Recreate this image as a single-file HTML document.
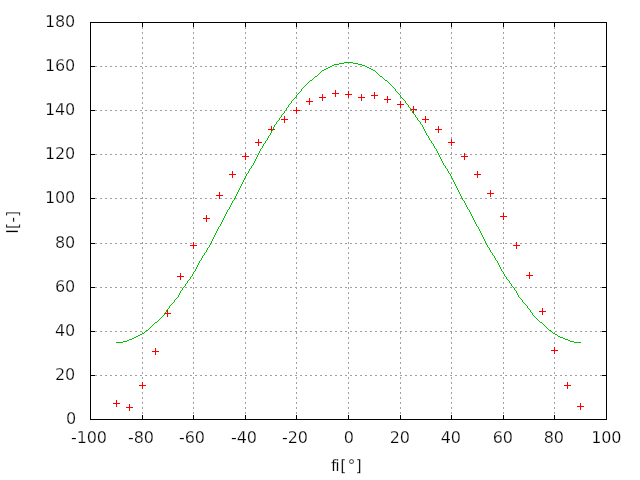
<!DOCTYPE html><html><head><meta charset="utf-8"><style>html,body{margin:0;padding:0;background:#fff;overflow:hidden}svg{display:block}text{font-family:"DejaVu Sans", "Liberation Sans", sans-serif;font-size:16px;fill:#000;stroke:#fff;stroke-width:0.25px}</style></head><body>
<svg width="640" height="480" viewBox="0 0 640 480">
<rect width="640" height="480" fill="#fff"/>
<path d="M95 375.5H602 M95 331.5H602 M95 287.5H602 M95 243.5H602 M95 198.5H602 M95 154.5H602 M95 110.5H602 M95 66.5H602 M142.5 27V414 M193.5 27V414 M245.5 27V414 M296.5 27V414 M348.5 27V414 M400.5 27V414 M451.5 27V414 M503.5 27V414 M554.5 27V414" stroke="#a0a0a0" stroke-width="1" stroke-dasharray="2 3" fill="none"/>
<path d="M90 375.5h5M602 375.5h5 M90 331.5h5M602 331.5h5 M90 287.5h5M602 287.5h5 M90 243.5h5M602 243.5h5 M90 198.5h5M602 198.5h5 M90 154.5h5M602 154.5h5 M90 110.5h5M602 110.5h5 M90 66.5h5M602 66.5h5 M142.5 22v5M142.5 415v5 M193.5 22v5M193.5 415v5 M245.5 22v5M245.5 415v5 M296.5 22v5M296.5 415v5 M348.5 22v5M348.5 415v5 M400.5 22v5M400.5 415v5 M451.5 22v5M451.5 415v5 M503.5 22v5M503.5 415v5 M554.5 22v5M554.5 415v5" stroke="#000" stroke-width="1" fill="none"/>
<rect x="90.5" y="22.5" width="516" height="397" stroke="#000" stroke-width="1" fill="none"/>
<path d="M113 403.5h7M116.5 400v7 M126 407.5h7M129.5 404v7 M139 385.5h7M142.5 382v7 M152 351.5h7M155.5 348v7 M164 313.5h7M167.5 310v7 M177 276.5h7M180.5 273v7 M190 245.5h7M193.5 242v7 M203 218.5h7M206.5 215v7 M216 195.5h7M219.5 192v7 M229 174.5h7M232.5 171v7 M242 156.5h7M245.5 153v7 M255 142.5h7M258.5 139v7 M268 129.5h7M271.5 126v7 M281 119.5h7M284.5 116v7 M293 110.5h7M296.5 107v7 M306 101.5h7M309.5 98v7 M319 97.5h7M322.5 94v7 M332 93.5h7M335.5 90v7 M345 94.5h7M348.5 91v7 M358 97.5h7M361.5 94v7 M371 95.5h7M374.5 92v7 M384 99.5h7M387.5 96v7 M397 104.5h7M400.5 101v7 M410 109.5h7M413.5 106v7 M422 119.5h7M425.5 116v7 M435 129.5h7M438.5 126v7 M448 142.5h7M451.5 139v7 M461 156.5h7M464.5 153v7 M474 174.5h7M477.5 171v7 M487 193.5h7M490.5 190v7 M500 216.5h7M503.5 213v7 M513 245.5h7M516.5 242v7 M526 275.5h7M529.5 272v7 M539 311.5h7M542.5 308v7 M551 350.5h7M554.5 347v7 M564 385.5h7M567.5 382v7 M577 406.5h7M580.5 403v7" stroke="#f00" stroke-width="1" fill="none"/>
<path d="M344 62h9v1h-9zM339 63h5v1h-5zM353 63h5v1h-5zM334 64h5v1h-5zM358 64h4v1h-4zM332 65h2v1h-2zM362 65h3v1h-3zM330 66h2v1h-2zM365 66h2v1h-2zM328 67h2v1h-2zM367 67h2v1h-2zM326 68h2v1h-2zM369 68h2v1h-2zM324 69h2v1h-2zM371 69h2v1h-2zM322 70h2v1h-2zM373 70h2v1h-2zM321 71h1v1h-1zM375 71h1v1h-1zM320 72h1v1h-1zM376 72h1v1h-1zM319 73h1v1h-1zM377 73h1v1h-1zM318 74h1v1h-1zM378 74h1v1h-1zM317 75h1v1h-1zM379 75h1v1h-1zM315 76h2v1h-2zM380 76h2v1h-2zM314 77h1v1h-1zM382 77h1v1h-1zM313 78h1v1h-1zM383 78h1v1h-1zM312 79h1v1h-1zM384 79h1v1h-1zM310 80h2v1h-2zM385 80h2v1h-2zM309 81h1v1h-1zM387 81h1v1h-1zM308 82h1v1h-1zM388 82h1v1h-1zM307 83h1v1h-1zM389 83h1v1h-1zM306 84h1v1h-1zM390 84h1v1h-1zM305 85h1v1h-1zM391 85h1v1h-1zM304 86h1v1h-1zM392 86h1v1h-1zM303 87h1v1h-1zM393 87h1v1h-1zM302 88h1v1h-1zM394 88h1v1h-1zM301 89h1v1h-1zM395 89h1v1h-1zM301 90h1v1h-1zM395 90h1v1h-1zM300 91h1v1h-1zM396 91h1v1h-1zM299 92h1v1h-1zM397 92h1v1h-1zM298 93h1v1h-1zM398 93h1v1h-1zM297 94h1v1h-1zM399 94h1v1h-1zM296 95h1v1h-1zM400 95h1v1h-1zM296 96h1v1h-1zM400 96h1v1h-1zM295 97h1v1h-1zM401 97h1v1h-1zM294 98h1v1h-1zM402 98h1v1h-1zM293 99h1v1h-1zM403 99h1v1h-1zM292 100h1v1h-1zM404 100h1v1h-1zM291 101h1v1h-1zM405 101h1v1h-1zM291 102h1v1h-1zM405 102h1v1h-1zM290 103h1v1h-1zM406 103h1v1h-1zM289 104h1v1h-1zM407 104h1v1h-1zM288 105h1v1h-1zM408 105h1v1h-1zM288 106h1v1h-1zM408 106h1v1h-1zM287 107h1v1h-1zM409 107h1v1h-1zM286 108h1v1h-1zM410 108h1v1h-1zM286 109h1v1h-1zM410 109h1v1h-1zM285 110h1v1h-1zM411 110h1v1h-1zM284 111h1v1h-1zM412 111h1v1h-1zM284 112h1v1h-1zM412 112h1v1h-1zM283 113h1v1h-1zM413 113h1v1h-1zM282 114h1v1h-1zM414 114h1v1h-1zM281 115h1v1h-1zM415 115h1v1h-1zM281 116h1v1h-1zM415 116h1v1h-1zM280 117h1v1h-1zM416 117h1v1h-1zM279 118h1v1h-1zM417 118h1v1h-1zM279 119h1v1h-1zM417 119h1v1h-1zM278 120h1v1h-1zM418 120h1v1h-1zM277 121h1v1h-1zM419 121h1v1h-1zM276 122h1v1h-1zM420 122h1v1h-1zM276 123h1v1h-1zM420 123h1v1h-1zM275 124h1v1h-1zM421 124h1v1h-1zM274 125h1v1h-1zM422 125h1v1h-1zM274 126h1v1h-1zM422 126h1v1h-1zM273 127h1v1h-1zM423 127h1v1h-1zM273 128h1v1h-1zM423 128h1v1h-1zM272 129h1v1h-1zM424 129h1v1h-1zM272 130h1v1h-1zM424 130h1v1h-1zM271 131h1v1h-1zM425 131h1v1h-1zM271 132h1v1h-1zM425 132h1v1h-1zM270 133h1v1h-1zM426 133h1v1h-1zM270 134h1v1h-1zM426 134h1v1h-1zM269 135h1v1h-1zM427 135h1v1h-1zM268 136h1v1h-1zM428 136h1v1h-1zM268 137h1v1h-1zM428 137h1v1h-1zM267 138h1v1h-1zM429 138h1v1h-1zM267 139h1v1h-1zM429 139h1v1h-1zM266 140h1v1h-1zM430 140h1v1h-1zM265 141h1v1h-1zM431 141h1v1h-1zM265 142h1v1h-1zM431 142h1v1h-1zM264 143h1v1h-1zM432 143h1v1h-1zM263 144h1v1h-1zM433 144h1v1h-1zM263 145h1v1h-1zM433 145h1v1h-1zM262 146h1v1h-1zM434 146h1v1h-1zM262 147h1v1h-1zM434 147h1v1h-1zM261 148h1v1h-1zM435 148h1v1h-1zM260 149h1v1h-1zM436 149h1v1h-1zM260 150h1v1h-1zM436 150h1v1h-1zM259 151h1v1h-1zM437 151h1v1h-1zM259 152h1v1h-1zM437 152h1v1h-1zM258 153h1v1h-1zM438 153h1v1h-1zM258 154h1v1h-1zM438 154h1v1h-1zM257 155h1v1h-1zM439 155h1v1h-1zM257 156h1v1h-1zM439 156h1v1h-1zM256 157h1v1h-1zM440 157h1v1h-1zM256 158h1v1h-1zM440 158h1v1h-1zM255 159h1v1h-1zM441 159h1v1h-1zM255 160h1v1h-1zM441 160h1v1h-1zM254 161h1v1h-1zM442 161h1v1h-1zM254 162h1v1h-1zM442 162h1v1h-1zM253 163h1v1h-1zM443 163h1v1h-1zM253 164h1v1h-1zM443 164h1v1h-1zM252 165h1v1h-1zM444 165h1v1h-1zM251 166h1v1h-1zM445 166h1v1h-1zM251 167h1v1h-1zM445 167h1v1h-1zM250 168h1v1h-1zM446 168h1v1h-1zM249 169h1v1h-1zM447 169h1v1h-1zM249 170h1v1h-1zM447 170h1v1h-1zM248 171h1v1h-1zM448 171h1v1h-1zM248 172h1v1h-1zM448 172h1v1h-1zM247 173h1v1h-1zM449 173h1v1h-1zM246 174h1v1h-1zM450 174h1v1h-1zM246 175h1v1h-1zM450 175h1v1h-1zM245 176h1v1h-1zM451 176h1v1h-1zM245 177h1v1h-1zM451 177h1v1h-1zM244 178h1v1h-1zM452 178h1v1h-1zM244 179h1v1h-1zM452 179h1v1h-1zM243 180h1v1h-1zM453 180h1v1h-1zM243 181h1v1h-1zM453 181h1v1h-1zM242 182h1v1h-1zM454 182h1v1h-1zM242 183h1v1h-1zM454 183h1v1h-1zM241 184h1v1h-1zM455 184h1v1h-1zM241 185h1v1h-1zM455 185h1v1h-1zM240 186h1v1h-1zM456 186h1v1h-1zM240 187h1v1h-1zM456 187h1v1h-1zM239 188h1v1h-1zM457 188h1v1h-1zM239 189h1v1h-1zM457 189h1v1h-1zM238 190h1v1h-1zM458 190h1v1h-1zM238 191h1v1h-1zM458 191h1v1h-1zM237 192h1v1h-1zM459 192h1v1h-1zM237 193h1v1h-1zM459 193h1v1h-1zM236 194h1v1h-1zM460 194h1v1h-1zM236 195h1v1h-1zM460 195h1v1h-1zM235 196h1v1h-1zM461 196h1v1h-1zM235 197h1v1h-1zM461 197h1v1h-1zM234 198h1v1h-1zM462 198h1v1h-1zM234 199h1v1h-1zM462 199h1v1h-1zM233 200h1v1h-1zM463 200h1v1h-1zM232 201h1v1h-1zM464 201h1v1h-1zM232 202h1v1h-1zM464 202h1v1h-1zM231 203h1v1h-1zM465 203h1v1h-1zM231 204h1v1h-1zM465 204h1v1h-1zM230 205h1v1h-1zM466 205h1v1h-1zM230 206h1v1h-1zM466 206h1v1h-1zM229 207h1v1h-1zM467 207h1v1h-1zM229 208h1v1h-1zM467 208h1v1h-1zM228 209h1v1h-1zM468 209h1v1h-1zM227 210h1v1h-1zM469 210h1v1h-1zM227 211h1v1h-1zM469 211h1v1h-1zM226 212h1v1h-1zM470 212h1v1h-1zM226 213h1v1h-1zM470 213h1v1h-1zM225 214h1v1h-1zM471 214h1v1h-1zM225 215h1v1h-1zM471 215h1v1h-1zM224 216h1v1h-1zM472 216h1v1h-1zM224 217h1v1h-1zM472 217h1v1h-1zM223 218h1v1h-1zM473 218h1v1h-1zM223 219h1v1h-1zM473 219h1v1h-1zM222 220h1v1h-1zM474 220h1v1h-1zM222 221h1v1h-1zM474 221h1v1h-1zM221 222h1v1h-1zM475 222h1v1h-1zM221 223h1v1h-1zM475 223h1v1h-1zM220 224h1v1h-1zM476 224h1v1h-1zM220 225h1v1h-1zM476 225h1v1h-1zM219 226h1v1h-1zM477 226h1v1h-1zM218 227h1v1h-1zM478 227h1v1h-1zM218 228h1v1h-1zM478 228h1v1h-1zM217 229h1v1h-1zM479 229h1v1h-1zM217 230h1v1h-1zM479 230h1v1h-1zM216 231h1v1h-1zM480 231h1v1h-1zM216 232h1v1h-1zM480 232h1v1h-1zM215 233h1v1h-1zM481 233h1v1h-1zM215 234h1v1h-1zM481 234h1v1h-1zM214 235h1v1h-1zM482 235h1v1h-1zM214 236h1v1h-1zM482 236h1v1h-1zM213 237h1v1h-1zM483 237h1v1h-1zM213 238h1v1h-1zM483 238h1v1h-1zM212 239h1v1h-1zM484 239h1v1h-1zM212 240h1v1h-1zM484 240h1v1h-1zM211 241h1v1h-1zM485 241h1v1h-1zM211 242h1v1h-1zM485 242h1v1h-1zM210 243h1v1h-1zM486 243h1v1h-1zM210 244h1v1h-1zM486 244h1v1h-1zM209 245h1v1h-1zM487 245h1v1h-1zM209 246h1v1h-1zM487 246h1v1h-1zM208 247h1v1h-1zM488 247h1v1h-1zM207 248h1v1h-1zM489 248h1v1h-1zM207 249h1v1h-1zM489 249h1v1h-1zM206 250h1v1h-1zM490 250h1v1h-1zM206 251h1v1h-1zM490 251h1v1h-1zM205 252h1v1h-1zM491 252h1v1h-1zM204 253h1v1h-1zM492 253h1v1h-1zM204 254h1v1h-1zM492 254h1v1h-1zM203 255h1v1h-1zM493 255h1v1h-1zM202 256h1v1h-1zM494 256h1v1h-1zM202 257h1v1h-1zM494 257h1v1h-1zM201 258h1v1h-1zM495 258h1v1h-1zM201 259h1v1h-1zM495 259h1v1h-1zM200 260h1v1h-1zM496 260h1v1h-1zM199 261h1v1h-1zM497 261h1v1h-1zM199 262h1v1h-1zM497 262h1v1h-1zM198 263h1v1h-1zM498 263h1v1h-1zM198 264h1v1h-1zM498 264h1v1h-1zM197 265h1v1h-1zM499 265h1v1h-1zM197 266h1v1h-1zM499 266h1v1h-1zM196 267h1v1h-1zM500 267h1v1h-1zM196 268h1v1h-1zM500 268h1v1h-1zM195 269h1v1h-1zM501 269h1v1h-1zM195 270h1v1h-1zM501 270h1v1h-1zM194 271h1v1h-1zM502 271h1v1h-1zM193 272h1v1h-1zM503 272h1v1h-1zM193 273h1v1h-1zM503 273h1v1h-1zM192 274h1v1h-1zM504 274h1v1h-1zM192 275h1v1h-1zM504 275h1v1h-1zM191 276h1v1h-1zM505 276h1v1h-1zM190 277h1v1h-1zM506 277h1v1h-1zM190 278h1v1h-1zM506 278h1v1h-1zM189 279h1v1h-1zM507 279h1v1h-1zM188 280h1v1h-1zM508 280h1v1h-1zM187 281h1v1h-1zM509 281h1v1h-1zM187 282h1v1h-1zM509 282h1v1h-1zM186 283h1v1h-1zM510 283h1v1h-1zM185 284h1v1h-1zM511 284h1v1h-1zM185 285h1v1h-1zM511 285h1v1h-1zM184 286h1v1h-1zM512 286h1v1h-1zM183 287h1v1h-1zM513 287h1v1h-1zM182 288h1v1h-1zM514 288h1v1h-1zM182 289h1v1h-1zM514 289h1v1h-1zM181 290h1v1h-1zM515 290h1v1h-1zM180 291h1v1h-1zM516 291h1v1h-1zM180 292h1v1h-1zM516 292h1v1h-1zM179 293h1v1h-1zM517 293h1v1h-1zM179 294h1v1h-1zM517 294h1v1h-1zM178 295h1v1h-1zM518 295h1v1h-1zM178 296h1v1h-1zM518 296h1v1h-1zM177 297h1v1h-1zM519 297h1v1h-1zM176 298h1v1h-1zM520 298h1v1h-1zM175 299h1v1h-1zM521 299h1v1h-1zM174 300h1v1h-1zM522 300h1v1h-1zM174 301h1v1h-1zM522 301h1v1h-1zM173 302h1v1h-1zM523 302h1v1h-1zM172 303h1v1h-1zM524 303h1v1h-1zM171 304h1v1h-1zM525 304h1v1h-1zM170 305h1v1h-1zM526 305h1v1h-1zM169 306h1v1h-1zM527 306h1v1h-1zM169 307h1v1h-1zM527 307h1v1h-1zM168 308h1v1h-1zM528 308h1v1h-1zM167 309h1v1h-1zM529 309h1v1h-1zM166 310h1v1h-1zM530 310h1v1h-1zM166 311h1v1h-1zM530 311h1v1h-1zM165 312h1v1h-1zM531 312h1v1h-1zM164 313h1v1h-1zM532 313h1v1h-1zM164 314h1v1h-1zM532 314h1v1h-1zM163 315h1v1h-1zM533 315h1v1h-1zM162 316h1v1h-1zM534 316h1v1h-1zM161 317h1v1h-1zM535 317h1v1h-1zM160 318h1v1h-1zM536 318h1v1h-1zM159 319h1v1h-1zM537 319h1v1h-1zM158 320h1v1h-1zM538 320h1v1h-1zM157 321h1v1h-1zM539 321h1v1h-1zM155 322h2v1h-2zM540 322h2v1h-2zM154 323h1v1h-1zM542 323h1v1h-1zM153 324h1v1h-1zM543 324h1v1h-1zM152 325h1v1h-1zM544 325h1v1h-1zM151 326h1v1h-1zM545 326h1v1h-1zM150 327h1v1h-1zM546 327h1v1h-1zM149 328h1v1h-1zM547 328h1v1h-1zM148 329h1v1h-1zM548 329h1v1h-1zM146 330h2v1h-2zM549 330h2v1h-2zM145 331h1v1h-1zM551 331h1v1h-1zM144 332h1v1h-1zM552 332h1v1h-1zM142 333h2v1h-2zM553 333h2v1h-2zM140 334h2v1h-2zM555 334h2v1h-2zM138 335h2v1h-2zM557 335h1v1h-1zM136 336h2v1h-2zM558 336h2v1h-2zM134 337h2v1h-2zM560 337h3v1h-3zM132 338h2v1h-2zM563 338h2v1h-2zM129 339h3v1h-3zM565 339h3v1h-3zM127 340h2v1h-2zM568 340h2v1h-2zM123 341h4v1h-4zM570 341h4v1h-4zM116 342h7v1h-7zM574 342h7v1h-7z" fill="#00c000" shape-rendering="crispEdges"/>
<text x="75.95" y="423.5" text-anchor="end" letter-spacing="-0.18">0</text>
<text x="75.10" y="379.5" text-anchor="end" letter-spacing="-0.18">20</text>
<text x="75.10" y="335.5" text-anchor="end" letter-spacing="-0.18">40</text>
<text x="75.10" y="291.5" text-anchor="end" letter-spacing="-0.18">60</text>
<text x="75.10" y="247.5" text-anchor="end" letter-spacing="-0.18">80</text>
<text x="75.10" y="202.5" text-anchor="end" letter-spacing="-0.18">100</text>
<text x="75.10" y="158.5" text-anchor="end" letter-spacing="-0.18">120</text>
<text x="75.10" y="114.5" text-anchor="end" letter-spacing="-0.18">140</text>
<text x="75.10" y="70.5" text-anchor="end" letter-spacing="-0.18">160</text>
<text x="75.10" y="26.5" text-anchor="end" letter-spacing="-0.18">180</text>
<text x="88.90" y="443" text-anchor="middle" letter-spacing="-0.18">-100</text>
<text x="140.90" y="443" text-anchor="middle" letter-spacing="-0.18">-80</text>
<text x="191.90" y="443" text-anchor="middle" letter-spacing="-0.18">-60</text>
<text x="243.90" y="443" text-anchor="middle" letter-spacing="-0.18">-40</text>
<text x="294.90" y="443" text-anchor="middle" letter-spacing="-0.18">-20</text>
<text x="348.75" y="443" text-anchor="middle" letter-spacing="-0.18">0</text>
<text x="399.85" y="443" text-anchor="middle" letter-spacing="-0.18">20</text>
<text x="450.85" y="443" text-anchor="middle" letter-spacing="-0.18">40</text>
<text x="502.85" y="443" text-anchor="middle" letter-spacing="-0.18">60</text>
<text x="553.85" y="443" text-anchor="middle" letter-spacing="-0.18">80</text>
<text x="606.25" y="443" text-anchor="middle" letter-spacing="-0.18">100</text>
<text x="331.03" y="470.5" style="font-variant-ligatures:none">f<tspan dx="-1.3">i</tspan><tspan dx="0.55">[</tspan><tspan dx="0.85">°</tspan>]</text>
<text transform="translate(18.4 222.3) rotate(-90)" text-anchor="middle">I[-]</text>
</svg></body></html>
